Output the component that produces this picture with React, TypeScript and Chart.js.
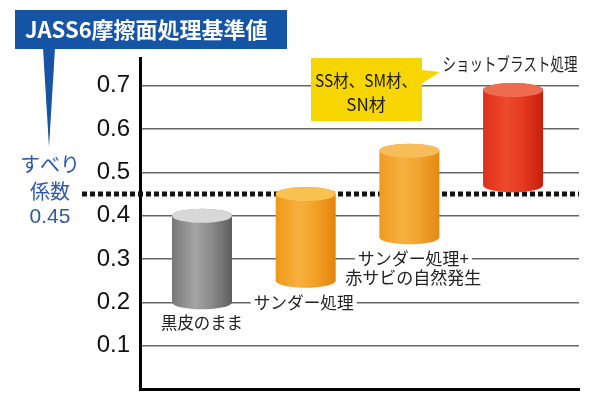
import React, { useEffect, useRef } from 'react';
import { Chart, registerables } from 'chart.js';

Chart.register(...registerables);

const categories = ['黒皮のまま', 'サンダー処理', 'サンダー処理+\n赤サビの自然発生', 'ショットブラスト処理'];
const lowValues = [0.2, 0.25, 0.35, 0.47];
const highValues = [0.4, 0.45, 0.55, 0.69];
const yTicks = [0.1, 0.2, 0.3, 0.4, 0.5, 0.6, 0.7];
const threshold = 0.45;
const titleText = 'JASS6摩擦面処理基準値';
const thresholdLabel = ['すべり', '係数', '0.45'];
const calloutLines = ['SS材、SM材、', 'SN材'];

const JP = '"Noto Sans CJK JP", "Noto Sans", sans-serif';
const LAT = '"Liberation Sans", Arial, sans-serif';

const palettes = [
  { body: ['#777777', '#a4a4a4', '#8c8c8c', '#5e5e5e'], top: '#d8d8d8' },
  { body: ['#f19816', '#f7b03e', '#f3a12a', '#e3840b'], top: '#f8c150' },
  { body: ['#ef9a1f', '#f6b13f', '#f3a431', '#e38912'], top: '#f6bd58' },
  { body: ['#df2f19', '#ee4a2c', '#e63a20', '#c61f0d'], top: '#ef6b50' },
];

const drawCylinder = (ctx: CanvasRenderingContext2D, cx: number, yTop: number, yBot: number, rx: number, ry: number, pal: any) => {
  const g = ctx.createLinearGradient(cx - rx, 0, cx + rx, 0);
  g.addColorStop(0, pal.body[0]);
  g.addColorStop(0.38, pal.body[1]);
  g.addColorStop(0.65, pal.body[2]);
  g.addColorStop(1, pal.body[3]);
  ctx.beginPath();
  ctx.moveTo(cx - rx, yTop);
  ctx.lineTo(cx - rx, yBot);
  ctx.ellipse(cx, yBot, rx, ry, 0, Math.PI, 0, true);
  ctx.lineTo(cx + rx, yTop);
  ctx.ellipse(cx, yTop, rx, ry, 0, 0, Math.PI, true);
  ctx.closePath();
  ctx.fillStyle = g;
  ctx.fill();
  ctx.beginPath();
  ctx.ellipse(cx, yTop, rx, ry, 0, 0, Math.PI * 2);
  ctx.fillStyle = pal.top;
  ctx.fill();
};

const labelWithBg = (ctx: CanvasRenderingContext2D, text: string, cx: number, cy: number, maxW: number, bg: boolean) => {
  ctx.font = `17px ${JP}`;
  const w = Math.min(ctx.measureText(text).width, maxW);
  if (bg) {
    ctx.fillStyle = '#ffffff';
    ctx.fillRect(cx - w / 2 - 3, cy - 9, w + 6, 18);
  }
  ctx.fillStyle = '#222222';
  ctx.textAlign = 'center';
  ctx.textBaseline = 'middle';
  ctx.fillText(text, cx, cy, maxW);
};

const cylinderPlugin = {
  id: 'cylinders',
  beforeDatasetsDraw(chart: any) {
    const { ctx, chartArea, scales } = chart;
    const y = scales.y.getPixelForValue(threshold);
    ctx.save();
    ctx.strokeStyle = '#111111';
    ctx.lineWidth = 5;
    ctx.setLineDash([5, 3]);
    ctx.beginPath();
    ctx.moveTo(82, y);
    ctx.lineTo(chartArea.right, y);
    ctx.stroke();
    ctx.restore();
  },
  afterDatasetsDraw(chart: any) {
    const { ctx } = chart;
    const meta = chart.getDatasetMeta(0);
    ctx.save();
    meta.data.forEach((el: any, i: number) => {
      const yTop = Math.min(el.y, el.base);
      const yBot = Math.max(el.y, el.base);
      drawCylinder(ctx, el.x, yTop, yBot, el.width / 2, 7, palettes[i]);
    });
    ctx.restore();
  },
  afterDraw(chart: any) {
    const { ctx, scales } = chart;
    const meta = chart.getDatasetMeta(0);
    const els = meta.data;
    const ys = scales.y;
    ctx.save();
    // category labels
    const [l1, l2, l3, l4] = categories;
    labelWithBg(ctx, l1, els[0].x, Math.max(els[0].y, els[0].base) + 20, 82, false);
    labelWithBg(ctx, l2, els[1].x - 2, ys.getPixelForValue(0.2), 100, true);
    const parts = l3.split('\n');
    labelWithBg(ctx, parts[0], els[2].x + 4, ys.getPixelForValue(0.3), 111, true);
    labelWithBg(ctx, parts[1], els[2].x + 4, ys.getPixelForValue(0.3) + 19, 138, false);
    ctx.save();
    ctx.font = `18px ${JP}`;
    ctx.fillStyle = '#222222';
    ctx.textAlign = 'center';
    ctx.textBaseline = 'middle';
    ctx.fillText(l4, els[3].x - 3, Math.min(els[3].y, els[3].base) - 26, 135);
    ctx.restore();

    // title box
    ctx.fillStyle = '#1654a5';
    ctx.fillRect(15, 10, 272, 39);
    ctx.beginPath();
    ctx.moveTo(43, 48);
    ctx.lineTo(55, 48);
    ctx.lineTo(49, 147);
    ctx.closePath();
    ctx.fill();
    ctx.fillStyle = '#ffffff';
    ctx.font = `bold 22px ${JP}`;
    ctx.textAlign = 'left';
    ctx.textBaseline = 'middle';
    ctx.fillText(titleText, 25, 30, 250);

    // threshold label
    ctx.fillStyle = '#2d5aa6';
    ctx.textAlign = 'center';
    ctx.font = `20px ${JP}`;
    ctx.fillText(thresholdLabel[0], 50, 164, 62);
    ctx.fillText(thresholdLabel[1], 50, 191, 46);
    ctx.font = `21px ${LAT}`;
    ctx.fillText(thresholdLabel[2], 50, 217, 46);

    // callout
    ctx.fillStyle = '#f7d600';
    ctx.fillRect(311, 58, 111, 63);
    ctx.beginPath();
    ctx.moveTo(421, 70);
    ctx.lineTo(440, 72);
    ctx.lineTo(421, 84);
    ctx.closePath();
    ctx.fill();
    ctx.fillStyle = '#1a1a1a';
    ctx.font = `17px ${JP}`;
    ctx.fillText(calloutLines[0], 366, 81, 102);
    ctx.fillText(calloutLines[1], 366, 105, 60);
    ctx.restore();
  },
};

export default function App() {
  const ref = useRef<HTMLCanvasElement>(null);
  useEffect(() => {
    if (!ref.current) return;
    const chart = new Chart(ref.current, {
      type: 'bar',
      data: {
        datasets: [
          {
            label: 'すべり係数',
            data: categories.map((c, i) => ({ x: i + 1, y: [lowValues[i], highValues[i]] })) as any,
            backgroundColor: 'rgba(0,0,0,0)',
            borderWidth: 0,
            barThickness: 60,
          },
        ],
      },
      options: {
        responsive: false,
        animation: false,
        layout: { padding: { top: 58, left: 0, right: 21, bottom: 11 } },
        plugins: { legend: { display: false }, tooltip: { enabled: false } },
        scales: {
          x: {
            type: 'linear',
            offset: false,
            min: 0.402,
            max: 4.636,
            ticks: { display: false },
            grid: { display: false, drawTicks: false, offset: false },
            border: { display: true, color: '#000000', width: 3 },
            afterFit: (s: any) => { s.height = 0; s.paddingLeft = 0; s.paddingRight = 0; },
          },
          y: {
            min: 0,
            max: 0.764,
            afterBuildTicks: (s: any) => { s.ticks = yTicks.map((v) => ({ value: v })); },
            ticks: {
              font: { family: LAT, size: 24 },
              color: '#111111',
              padding: 10,
              callback: (v: any) => Number(v).toFixed(1),
            },
            grid: { color: '#666666', lineWidth: 1.5, drawTicks: false },
            border: { color: '#000000', width: 3 },
            afterFit: (s: any) => { s.width = 140; s.paddingTop = 0; s.paddingBottom = 0; },
          },
        },
      },
      plugins: [cylinderPlugin],
    });
    return () => chart.destroy();
  }, []);
  return (
    <div style={{ position: 'absolute', left: 0, top: 0, width: 600, height: 400, background: '#ffffff' }}>
      <canvas ref={ref} width={600} height={400} />
    </div>
  );
}
